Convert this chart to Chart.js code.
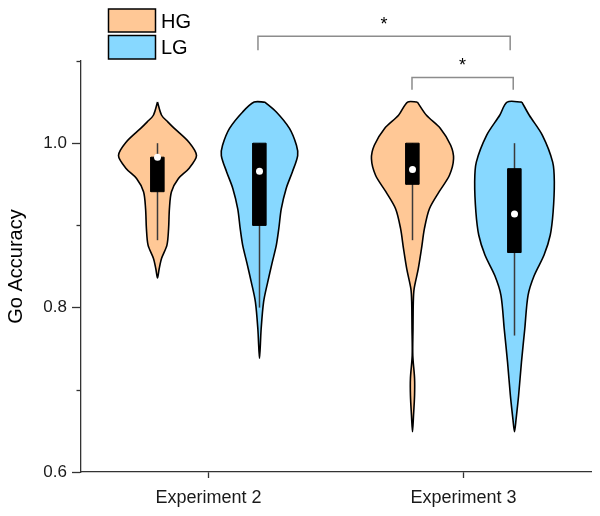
<!DOCTYPE html>
<html><head><meta charset="utf-8">
<script src="https://cdn.jsdelivr.net/npm/chart.js@4.4.1/dist/chart.umd.min.js"></script>
<style>html,body{margin:0;padding:0;background:#fff}#wrap{width:600px;height:516px}</style>
</head><body><div id="wrap"><canvas id="c" width="600" height="516"></canvas></div>
<script>
// ---------- data ----------
const categories = ['Experiment 2', 'Experiment 3'];
const seriesNames = ['HG', 'LG'];

// violin outlines: accuracy levels and relative density (half-width) at each level
const hgExp2Levels  = [1.050, 1.034, 1.026, 1.018, 1.0015, 0.985, 0.969, 0.957, 0.941, 0.920, 0.896, 0.876, 0.860, 0.847, 0.836];
const hgExp2Density = [0, 0.10, 0.25, 0.41, 0.76, 0.95, 0.76, 0.51, 0.34, 0.29, 0.27, 0.23, 0.10, 0.04, 0];
const lgExp2Levels  = [1.050, 1.038, 1.018, 0.9975, 0.985, 0.965, 0.945, 0.920, 0.896, 0.876, 0.855, 0.831, 0.807, 0.774, 0.738];
const lgExp2Density = [0.13, 0.41, 0.73, 0.90, 0.93, 0.80, 0.65, 0.53, 0.47, 0.41, 0.31, 0.20, 0.10, 0.04, 0];
const hgExp3Levels  = [1.050, 1.034, 1.018, 0.9975, 0.981, 0.961, 0.941, 0.920, 0.896, 0.872, 0.847, 0.823, 0.807, 0.774, 0.742, 0.714, 0.693, 0.669, 0.649];
const hgExp3Density = [0.12, 0.34, 0.68, 0.93, 1.00, 0.90, 0.65, 0.41, 0.29, 0.22, 0.14, 0.04, 0.02, 0.012, 0.007, 0.05, 0.05, 0.025, 0];
const lgExp3Levels  = [1.050, 1.034, 1.0096, 0.977, 0.953, 0.916, 0.888, 0.864, 0.839, 0.815, 0.774, 0.734, 0.693, 0.665, 0.649];
const lgExp3Density = [0.18, 0.36, 0.68, 0.93, 0.97, 0.94, 0.87, 0.72, 0.48, 0.33, 0.25, 0.17, 0.10, 0.04, 0];

// box statistics, order: HG-Exp2, LG-Exp2, HG-Exp3, LG-Exp3
const boxLow      = [0.941, 0.900, 0.950, 0.867];
const boxHigh     = [0.983, 1.000, 1.000, 0.969];
const whiskerLow  = [0.882, 0.800, 0.882, 0.766];
const whiskerHigh = [1.000, 1.000, 1.000, 1.000];
const centerDot   = [0.983, 0.966, 0.968, 0.914];

// significance comparisons (group indices as above)
const compA = [1, 2];
const compB = [3, 3];
const compLabel = ['*', '*'];

// y axis ticks
const yMajorTicks = [0.6, 0.8, 1.0];

// ---------- styles ----------
const FONT = "'Liberation Sans', Arial, sans-serif";
const seriesFill = ['rgb(255,200,150)', 'rgb(135,216,255)'];
const GROUP_OFFSET = 0.2;
const VIOLIN_HALF = 0.161;
const BOX_HALF = 0.026;

const groupLevels  = [hgExp2Levels, lgExp2Levels, hgExp3Levels, lgExp3Levels];
const groupDensity = [hgExp2Density, lgExp2Density, hgExp3Density, lgExp3Density];
const groupCat     = [0, 0, 1, 1];
const groupSeries  = [0, 1, 0, 1];
const centerOf = g => groupCat[g] + 1 + (groupSeries[g] === 0 ? -GROUP_OFFSET : GROUP_OFFSET);

const datasets = [];
for (let g = 0; g < 4; g++) {
  const c = centerOf(g), lv = groupLevels[g], d = groupDensity[g], n = lv.length;
  const pts = [];
  for (let i = 0; i < n; i++) pts.push({x: c + d[i] * VIOLIN_HALF, y: lv[i]});
  const startLeft = d[n - 1] === 0 ? n - 2 : n - 1;
  for (let i = startLeft; i >= 0; i--) pts.push({x: c - d[i] * VIOLIN_HALF, y: lv[i]});
  if (d[0] > 0) pts.push({x: c + d[0] * VIOLIN_HALF, y: lv[0]});
  datasets.push({label: seriesNames[groupSeries[g]], data: pts, borderColor: '#000', borderWidth: 1.6,
    backgroundColor: seriesFill[groupSeries[g]], fill: 'shape', tension: 0.3, pointRadius: 0, order: 4});
  datasets.push({data: [{x: c, y: whiskerLow[g]}, {x: c, y: whiskerHigh[g]}], borderColor: '#3a3a3a',
    borderWidth: 1.5, pointRadius: 0, fill: false, order: 3});
  datasets.push({data: [{x: c - BOX_HALF, y: boxLow[g]}, {x: c + BOX_HALF, y: boxLow[g]}, {x: c + BOX_HALF, y: boxHigh[g]},
    {x: c - BOX_HALF, y: boxHigh[g]}, {x: c - BOX_HALF, y: boxLow[g]}], borderColor: '#000', borderWidth: 1,
    backgroundColor: '#000', fill: 'shape', tension: 0, pointRadius: 0, order: 2});
  datasets.push({data: [{x: c, y: centerDot[g]}], showLine: false, pointRadius: 3.5, pointBackgroundColor: '#fff',
    pointBorderWidth: 0, order: 1});
}

const isMajor = v => yMajorTicks.some(m => Math.abs(m - v) < 1e-6);

const decor = {
  id: 'decor',
  afterDraw(chart) {
    const ctx = chart.ctx, xs = chart.scales.x, ys = chart.scales.y;
    ctx.save();
    // minor ticks
    ctx.strokeStyle = '#333'; ctx.lineWidth = 1.3;
    ys.ticks.forEach(t => {
      if (!isMajor(t.value)) {
        const py = Math.round(ys.getPixelForValue(t.value)) + 0.5;
        ctx.beginPath(); ctx.moveTo(ys.right - 4.5, py); ctx.lineTo(ys.right, py); ctx.stroke();
      }
    });
    // legend
    const lx = 108.5, lw = 47, rows = [[9, 23], [35.5, 23.5]];
    seriesNames.forEach((name, i) => {
      ctx.fillStyle = seriesFill[i];
      ctx.fillRect(lx, rows[i][0], lw, rows[i][1]);
      ctx.strokeStyle = '#000'; ctx.lineWidth = 1.5;
      ctx.strokeRect(lx, rows[i][0], lw, rows[i][1]);
      ctx.fillStyle = '#000'; ctx.font = '20px ' + FONT; ctx.textAlign = 'left'; ctx.textBaseline = 'alphabetic';
      ctx.fillText(name, 161, rows[i][0] + 18.5);
    });
    // significance brackets
    const levels = [[1.130, 1.113], [1.080, 1.065]];
    const insets = [[-0.006, -0.017], [-0.002, -0.005]];
    ctx.strokeStyle = '#8c8c8c'; ctx.lineWidth = 1.5;
    compA.forEach((a, k) => {
      const x1 = xs.getPixelForValue(centerOf(a) + insets[k][0]);
      const x2 = xs.getPixelForValue(centerOf(compB[k]) + insets[k][1]);
      const yt = ys.getPixelForValue(levels[k][0]), yl = ys.getPixelForValue(levels[k][1]);
      ctx.beginPath(); ctx.moveTo(x1, yl); ctx.lineTo(x1, yt); ctx.lineTo(x2, yt); ctx.lineTo(x2, yl); ctx.stroke();
      ctx.fillStyle = '#000'; ctx.font = '18px ' + FONT; ctx.textAlign = 'center'; ctx.textBaseline = 'alphabetic';
      ctx.fillText(compLabel[k], (x1 + x2) / 2, yt - 6);
    });
    ctx.restore();
  }
};

new Chart(document.getElementById('c'), {
  type: 'line',
  data: {datasets},
  options: {
    responsive: false, animation: false, events: [],
    layout: {padding: {top: 61, right: 9, left: 0, bottom: 0}},
    plugins: {legend: {display: false}, tooltip: {enabled: false}},
    scales: {
      x: {
        type: 'linear', min: 0.5, max: 2.5,
        afterBuildTicks: s => { s.ticks = categories.map((_, i) => ({value: i + 1})); },
        ticks: {callback: v => categories[Math.round(v) - 1] ?? '', font: {family: FONT, size: 18}, color: '#1a1a1a',
          padding: 9, maxRotation: 0, autoSkip: false},
        grid: {drawOnChartArea: false, drawTicks: true, tickLength: 6, tickColor: '#333', tickWidth: 1.3},
        border: {color: '#333', width: 1.3},
        afterFit: s => { s.height = 44; }
      },
      y: {
        type: 'linear', min: 0.6, max: 1.1,
        ticks: {stepSize: 0.1, callback: v => isMajor(v) ? v.toFixed(1) : '', font: {family: FONT, size: 17},
          color: '#1a1a1a', padding: 5, autoSkip: false},
        grid: {drawOnChartArea: false, tickLength: 9, tickWidth: 1.3,
          tickColor: c => (c.tick && isMajor(c.tick.value)) ? '#333' : 'rgba(0,0,0,0)'},
        border: {color: '#333', width: 1.3},
        title: {display: true, text: 'Go Accuracy', font: {family: FONT, size: 20}, color: '#000', padding: {top: 4, bottom: 0}},
        afterFit: s => { s.width = 81; }
      }
    }
  },
  plugins: [decor]
});
</script>
</body></html>
